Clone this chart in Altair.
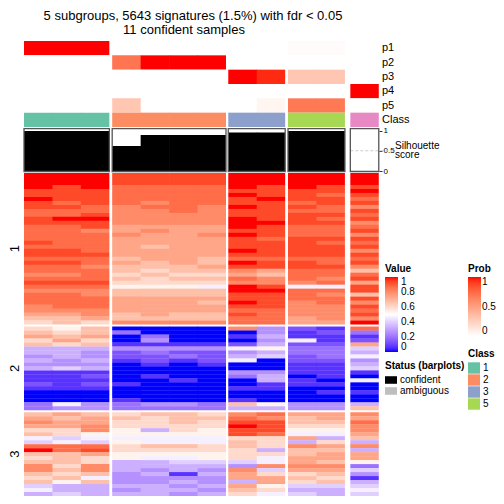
import altair as alt
import pandas as pd

FONT = "Liberation Sans"

TITLE_LINE_1 = "5 subgroups, 5643 signatures (1.5%) with fdr < 0.05"
TITLE_LINE_2 = "11 confident samples"

# column groups, left to right
group_classes = ["1", "2", "3", "5", "4"]
group_sizes = [3, 4, 2, 2, 1]
row_group_labels = ["1", "2", "3"]

# membership probabilities per column
prob_names = ["p1", "p2", "p3", "p4", "p5"]
p1 = [1.0, 1.0, 1.0, 0.0, 0.0, 0.0, 0.0, 0.0, 0.0, 0.02, 0.02, 0.0]
p2 = [0.0, 0.0, 0.0, 0.7, 1.0, 1.0, 1.0, 0.0, 0.0, 0.0, 0.0, 0.0]
p3 = [0.0, 0.0, 0.0, 0.0, 0.0, 0.0, 0.0, 1.0, 0.95, 0.3, 0.3, 0.0]
p4 = [0.0, 0.0, 0.0, 0.0, 0.0, 0.0, 0.0, 0.0, 0.0, 0.0, 0.0, 1.0]
p5 = [0.0, 0.0, 0.0, 0.3, 0.0, 0.0, 0.0, 0.0, 0.05, 0.68, 0.68, 0.0]

silhouette = [0.99, 0.99, 0.99, 0.62, 0.89, 0.89, 0.89, 0.95, 0.95, 0.99, 0.99, 0.0]
status = ["confident", "confident", "confident", "confident", "confident", "confident",
          "confident", "confident", "confident", "confident", "confident", "confident"]

class_domain = ["1", "2", "3", "4", "5"]
class_colors = ["#66C2A5", "#FC8D62", "#8DA0CB", "#E78AC3", "#A6D854"]
class_legend_values = ["1", "2", "3", "5"]
status_domain = ["confident", "ambiguous"]
status_colors = ["#000000", "#BEBEBE"]

value_ticks = [0, 0.2, 0.4, 0.6, 0.8, 1]
prob_ticks = [0, 0.5, 1]
sil_ticks = [0, 0.5, 1]

# heatmap values: one string per row, 12 hex digits (0..f -> 0..1), columns grouped 3|4|2|2|1
heat_group1 = [
    "fff eeee ff ff f", "fff eeee ff ff f", "fff eeee ff ff f", "fef dddd fe fe e",
    "eee dddd ee ee f", "eee dddd fe ed e", "fee dddd ef ee d", "ede dcdd ee de e",
    "eed cddc fe ed c", "ddd ccdc ee dd e", "dde cccc ee ee d", "eff cccc fe ed e",
    "eee cccc ff ee c", "dde bbbb fe dd d", "ddc bcbb ee dd e", "ddd cbbc fe dd c",
    "ddd bbbb ed ee e", "edd bbbb ee ed d", "ddd babb ee ee e", "eed bbbb fe ee c",
    "eee bbbb ee ee e", "ddd abba dd dd d", "eed baba fe ed e", "ddc aaab ee ee c",
    "ddd a9aa cb dd a", "ccd 9a99 ba dd d", "ddd a9aa dc dc e", "eee 9999 cc cd b",
    "ddd 8887 fe 77 e", "ccc aaaa ff dd e", "ddc aaaa ee dc a", "ddd bbbb ee dd e",
    "ddd bbba fe cd c", "cdd bbbb ee cc e", "ccc bbbb dd cc d", "bbc abaa ed cc e",
    "aab aaaa dd bc c", "9a9 cccc dd bb f",
]
heat_group2 = [
    "98a 0000 c4 21 d", "a9a 3000 04 12 3", "bab 0300 15 11 1", "9b9 0400 04 71 2",
    "a9a 1111 25 22 b", "555 4444 78 33 6", "554 2322 45 33 5", "454 2232 56 23 7",
    "545 1212 70 22 4", "444 0101 00 11 5", "565 0000 00 11 6", "111 0000 44 11 1",
    "112 0100 35 01 0", "111 0010 05 10 7", "212 1000 01 11 0", "111 0000 11 00 0",
    "000 0000 00 01 1", "000 0000 00 00 0", "000 1000 10 00 0", "374 3443 a8 44 5",
    "344 3333 55 44 a",
]
heat_group3 = [
    "aba 9aa9 cd bb c", "bab a9aa dc ab b", "cbb 99a9 ee aa d", "bbc 9999 fe 99 c",
    "99c 8598 ee 88 c", "a98 8888 ed 77 b", "767 7777 99 b5 a", "676 8777 a9 59 5",
    "ddd 9aa9 a9 cb c", "fde 9999 95 aa 5", "aab 8888 99 ab b", "9a9 8778 97 bb b",
    "aa9 5566 67 ba 8", "c9c 5555 4c cc 3", "cac 5454 c6 bb 6", "a9a 4515 b9 9a 4",
    "9a7 4444 bb a9 1", "a8a 4454 5b 9a 5", "655 5545 b8 66 6", "755 4554 a9 55 7",
    "565 5545 97 65 6",
]

# ---------------- layout ----------------
PX_PER_COL = 28.45
GAP_AFTER = [0.1, 0.08, 0.1, 0.19]
ROW_GAP = 0.5

col_x, col_class, col_last = [], [], []
group_span = []
pos = 0.0
for g, n in enumerate(group_sizes):
    group_span.append((pos, pos + n))
    for i in range(n):
        col_x.append(pos + i)
        col_class.append(group_classes[g])
        col_last.append(i == n - 1)
    pos += n + (GAP_AFTER[g] if g < len(GAP_AFTER) else 0.0)
n_cols = len(col_x)
col_x1 = [col_x[c] + (1.0 if col_last[c] else 1.02) for c in range(n_cols)]
X_DOMAIN = [-16 / PX_PER_COL, 472 / PX_PER_COL]


def xscale():
    return alt.Scale(domain=X_DOMAIN, nice=False, zero=False)


def anno_y():
    return alt.Scale(domain=[0, 6], range=[33, 119], nice=False, zero=False)


def sil_y():
    return alt.Scale(domain=[0, 1], range=[163, 122.5], nice=False, zero=False)


heat_groups = [heat_group1, heat_group2, heat_group3]
starts = []
s = 0.0
for rows in heat_groups:
    starts.append(s)
    s += len(rows) + ROW_GAP
HEAT_TOTAL = starts[-1] + len(heat_groups[-1])


def heat_y():
    return alt.Scale(domain=[0, HEAT_TOTAL], range=[165, 488], nice=False, zero=False)


# ---------------- data tables ----------------
probs = [p1, p2, p3, p4, p5]
anno_df = pd.DataFrame([
    dict(x0=col_x[c], x1=col_x1[c], y0=k, y1=k + 1, prob=probs[k][c])
    for k in range(len(probs)) for c in range(n_cols)
])
class_df = pd.DataFrame([
    dict(x0=col_x[c], x1=col_x1[c], y0=5, y1=6, cls=col_class[c]) for c in range(n_cols)
])
anno_label_df = pd.DataFrame(dict(label=prob_names + ["Class"], yc=[k + 0.5 for k in range(6)]))

bar_df = pd.DataFrame(dict(x0=col_x, x1=col_x1, zero=[0.0] * n_cols, sil=silhouette, status=status))
box_df = pd.DataFrame(dict(x0=[a for a, b in group_span], x1=[b for a, b in group_span],
                           y0=[-0.012] * len(group_span), y1=[1.045] * len(group_span)))
dash_df = pd.DataFrame(dict(x0=[group_span[-1][0]], x1=[(393 - 24) / PX_PER_COL], y=[0.5]))

heat_rows = []
for gi, rows in enumerate(heat_groups):
    for r, srow in enumerate(rows):
        digits = srow.replace(" ", "")
        y0 = starts[gi] + r
        y1 = y0 + (1.0 if r == len(rows) - 1 else 1.08)
        for c, ch in enumerate(digits):
            heat_rows.append(dict(x0=col_x[c], x1=col_x1[c], y0=y0, y1=y1, value=int(ch, 16) / 15))
heat_df = pd.DataFrame(heat_rows)
rowlab_df = pd.DataFrame(dict(label=row_group_labels,
                              yc=[starts[i] + len(heat_groups[i]) / 2 for i in range(3)]))
one = pd.DataFrame({"a": [0]})

legend_common = dict(orient="none", direction="vertical", labelFont=FONT, labelFontSize=10,
                     labelColor="black", titleFont=FONT, titleFontSize=10, titleFontWeight="bold",
                     titleColor="black", labelOverlap=False)

# ---------------- layers ----------------
prob_layer = alt.Chart(anno_df).mark_rect().encode(
    x=alt.X("x0:Q", scale=xscale(), axis=None), x2="x1:Q",
    y=alt.Y("y0:Q", scale=anno_y(), axis=None), y2="y1:Q",
    color=alt.Color("prob:Q", scale=alt.Scale(domain=[0, 1], range=["#FFFFFF", "#FF0000"], interpolate="lab"),
                    legend=alt.Legend(title="Prob", legendX=460, legendY=256, gradientLength=59,
                                      gradientThickness=13, gradientStrokeWidth=0, values=prob_ticks,
                                      format=".1~f", labelOffset=1, titlePadding=3, **legend_common)),
)

class_layer = alt.Chart(class_df).mark_rect().encode(
    x=alt.X("x0:Q", scale=xscale(), axis=None), x2="x1:Q",
    y=alt.Y("y0:Q", scale=anno_y(), axis=None), y2="y1:Q",
    color=alt.Color("cls:N", scale=alt.Scale(domain=class_domain, range=class_colors),
                    legend=alt.Legend(title="Class", legendX=460, legendY=341, values=class_legend_values,
                                      symbolType="M-1,-0.95H1V0.95H-1Z", symbolSize=144,
                                      symbolStrokeWidth=0, symbolOpacity=1, rowPadding=0,
                                      labelOffset=3, titlePadding=3, **legend_common)),
)

anno_text = alt.Chart(anno_label_df).mark_text(align="left", baseline="middle", font=FONT,
                                               fontSize=11, color="black").encode(
    x=alt.value(374), y=alt.Y("yc:Q", scale=anno_y(), axis=None), text="label:N")

title1 = alt.Chart(one).mark_text(align="center", baseline="alphabetic", font=FONT, fontSize=13,
                                  color="black").encode(
    x=alt.value(185), y=alt.value(12), text=alt.value(TITLE_LINE_1))
title2 = alt.Chart(one).mark_text(align="center", baseline="alphabetic", font=FONT, fontSize=13,
                                  color="black").encode(
    x=alt.value(176), y=alt.value(26), text=alt.value(TITLE_LINE_2))

dash_layer = alt.Chart(dash_df).mark_rule(color="#CCCCCC", strokeDash=[3, 2], strokeWidth=1).encode(
    x=alt.X("x0:Q", scale=xscale(), axis=None), x2="x1:Q",
    y=alt.Y("y:Q", scale=sil_y(), axis=None))

bar_layer = alt.Chart(bar_df).mark_rect().encode(
    x=alt.X("x0:Q", scale=xscale(), axis=None), x2="x1:Q",
    y=alt.Y("zero:Q", scale=sil_y(),
            axis=alt.Axis(orient="right", offset=-117, values=sil_ticks, format=".1~f", labelFont=FONT,
                          labelFontSize=8, labelColor="black", tickSize=3, tickColor="#333333",
                          domain=False, grid=False, title=None, labelPadding=1)),
    y2="sil:Q",
    color=alt.Color("status:N", scale=alt.Scale(domain=status_domain, range=status_colors),
                    legend=alt.Legend(title="Status (barplots)", legendX=377, legendY=353,
                                      symbolType="M-1,-0.63H1V0.63H-1Z", symbolSize=144,
                                      symbolStrokeWidth=0, symbolOpacity=1, rowPadding=0,
                                      labelOffset=3, titlePadding=3, **legend_common)),
)

box_layer = alt.Chart(box_df).mark_rect(fillOpacity=0, stroke="#555555", strokeWidth=1.3).encode(
    x=alt.X("x0:Q", scale=xscale(), axis=None), x2="x1:Q",
    y=alt.Y("y0:Q", scale=sil_y(), axis=None), y2="y1:Q")

sil_text = alt.Chart(pd.DataFrame(dict(t=["Silhouette", "score"], yy=[140.5, 150]))).mark_text(
    align="left", baseline="alphabetic", font=FONT, fontSize=10, color="black").encode(
    x=alt.value(387), y=alt.Y("yy:Q", scale=alt.Scale(domain=[0, 488], range=[0, 488]), axis=None),
    text="t:N")

heat_layer = alt.Chart(heat_df).mark_rect().encode(
    x=alt.X("x0:Q", scale=xscale(), axis=None), x2="x1:Q",
    y=alt.Y("y0:Q", scale=heat_y(), axis=None), y2="y1:Q",
    color=alt.Color("value:Q",
                    scale=alt.Scale(domain=[0, 0.5, 1], range=["#0000FF", "#FFFFFF", "#FF0000"],
                                    interpolate="lab"),
                    legend=alt.Legend(title="Value", legendX=377, legendY=256, gradientLength=75,
                                      gradientThickness=13, gradientStrokeWidth=0, values=value_ticks,
                                      format=".1~f", labelOffset=3, titlePadding=3, **legend_common)),
)

rowlab_layer = alt.Chart(rowlab_df).mark_text(align="center", baseline="middle", angle=270, font=FONT,
                                              fontSize=13, color="black").encode(
    x=alt.value(7), y=alt.Y("yc:Q", scale=heat_y(), axis=None), text="label:N")

chart = alt.layer(
    prob_layer, class_layer, anno_text, title1, title2,
    dash_layer, bar_layer, box_layer, sil_text,
    heat_layer, rowlab_layer,
).resolve_scale(y="independent", color="independent").properties(
    width=488, height=488, padding=0, autosize=alt.AutoSizeParams(type="none"),
    background="white",
).configure_view(stroke=None)

chart.save("out.html", embed_options={"renderer": "svg", "actions": False})
